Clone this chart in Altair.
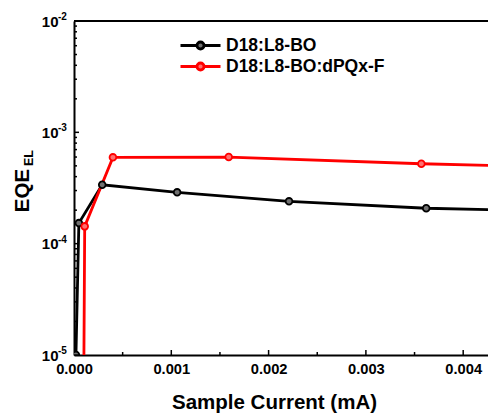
import altair as alt
import pandas as pd

# ---- data ----
series_names = ["D18:L8-BO", "D18:L8-BO:dPQx-F"]
black_x = [0.00002, 0.00005, 0.00029, 0.00106, 0.00221, 0.00362, 0.0052]
black_y = [1.0e-5, 1.53e-4, 3.38e-4, 2.89e-4, 2.40e-4, 2.08e-4, 1.93e-4]
red_x = [0.000095, 0.00011, 0.00040, 0.00159, 0.00357, 0.0053]
red_y = [1.0e-6, 1.43e-4, 5.96e-4, 6.00e-4, 5.22e-4, 4.80e-4]

x_tick_values = [0.0, 0.001, 0.002, 0.003, 0.004]
x_major_inner = [0.001, 0.002, 0.003, 0.004]
x_minor = [0.0005, 0.0015, 0.0025, 0.0035]
y_tick_values = [1e-5, 1e-4, 1e-3, 1e-2]
y_tick_exponents = ["-5", "-4", "-3", "-2"]
y_minor = [m * d for d in [1e-5, 1e-4, 1e-3] for m in range(2, 10)]

line_colors = ["#000000", "#ff0000"]
fill_colors = ["#707070", "#ff7070"]

W, H = 414, 334
FONT = "Liberation Sans"
YLAB_PAD = 16

df = pd.DataFrame(
    {"x": black_x + red_x,
     "y": black_y + red_y,
     "s": [series_names[0]] * len(black_x) + [series_names[1]] * len(red_x),
     "o": list(range(len(black_x))) + list(range(len(red_x)))}
)

xscale = alt.Scale(domain=[0, 0.004255], nice=False, zero=False)
yscale = alt.Scale(type="log", domain=[1e-5, 1e-2], nice=False)

x_axis = alt.Axis(
    values=x_tick_values, format=".3f", ticks=False, grid=False,
    domainColor="black", domainWidth=2,
    labelFont=FONT, labelFontWeight="bold", labelFontSize=14.7, labelColor="black",
    labelPadding=6, labelFlush=False,
    title="Sample Current (mA)", titleFont=FONT, titleFontWeight="bold",
    titleFontSize=20.5, titleColor="black", titleX=200, titleY=53,
    titleAlign="center", titleBaseline="alphabetic",
)
y_axis = alt.Axis(
    values=y_tick_values, labelExpr="'10'", ticks=False, grid=False,
    domainColor="black", domainWidth=2,
    labelFont=FONT, labelFontWeight="bold", labelFontSize=15, labelColor="black",
    labelPadding=YLAB_PAD, labelFlush=False,
    title="EQE", titleFont=FONT, titleFontWeight="bold", titleFontSize=20.5,
    titleColor="black", titleAngle=270, titleX=-46, titleY=169,
    titleAlign="center", titleBaseline="alphabetic",
)

base = alt.Chart(df)

lines = base.mark_line(strokeWidth=2.8, clip=True).encode(
    x=alt.X("x:Q", scale=xscale, axis=x_axis, title="Sample Current (mA)"),
    y=alt.Y("y:Q", scale=yscale, axis=y_axis, title="EQE"),
    color=alt.Color("s:N", scale=alt.Scale(domain=series_names, range=line_colors), legend=None),
    order="o:Q",
)

symbol_path = "M-2,0L-0.35,0M0.35,0L2,0M-0.35,0A0.35,0.35,0,1,0,0.35,0A0.35,0.35,0,1,0,-0.35,0Z"
legend = alt.Legend(
    orient="none", legendX=115, legendY=13, title=None, padding=0,
    symbolType=symbol_path, symbolSize=400, symbolStrokeWidth=2.8,
    labelFont=FONT, labelFontWeight="bold", labelFontSize=17.5, labelColor="black",
    labelOffset=14, rowPadding=0, labelLimit=400,
)

points = base.mark_point(filled=True, size=45, strokeWidth=1.8, opacity=1, clip=True).encode(
    x=alt.X("x:Q", title="Sample Current (mA)"),
    y=alt.Y("y:Q", title="EQE"),
    fill=alt.Fill("s:N", scale=alt.Scale(domain=series_names, range=fill_colors), legend=legend),
    stroke=alt.Stroke("s:N", scale=alt.Scale(domain=series_names, range=line_colors), legend=legend),
)

xt_major = alt.Chart(pd.DataFrame({"x": x_major_inner})).mark_rule(color="black", strokeWidth=1.5).encode(
    x=alt.X("x:Q", title="Sample Current (mA)"), y=alt.value(H), y2=alt.value(H - 5))
xt_minor = alt.Chart(pd.DataFrame({"x": x_minor})).mark_rule(color="black", strokeWidth=1.5).encode(
    x=alt.X("x:Q", title="Sample Current (mA)"), y=alt.value(H), y2=alt.value(H - 3))
yt_major = alt.Chart(pd.DataFrame({"y": y_tick_values})).mark_rule(color="black", strokeWidth=1.5).encode(
    y=alt.Y("y:Q", title="EQE"), x=alt.value(0), x2=alt.value(5))
yt_minor = alt.Chart(pd.DataFrame({"y": y_minor})).mark_rule(color="black", strokeWidth=1.5).encode(
    y=alt.Y("y:Q", title="EQE"), x=alt.value(0), x2=alt.value(3))

# superscript exponents of the y tick labels
sup = alt.Chart(pd.DataFrame({"y": y_tick_values, "e": y_tick_exponents})).mark_text(
    font=FONT, fontWeight="bold", fontSize=10, color="black",
    align="left", baseline="alphabetic", dy=-1,
).encode(y=alt.Y("y:Q", title="EQE"), x=alt.value(-YLAB_PAD), text="e:N")

top_border = alt.Chart(pd.DataFrame({"a": [0]})).mark_rule(color="black", strokeWidth=2).encode(
    x=alt.value(0), x2=alt.value(W), y=alt.value(0))

sub_el = alt.Chart(pd.DataFrame({"t": ["EL"]})).mark_text(
    angle=270, font=FONT, fontWeight="bold", fontSize=12.5, color="black",
    align="center", baseline="alphabetic",
).encode(text="t:N", x=alt.value(-41), y=alt.value(137))

chart = alt.layer(
    lines, points, xt_major, xt_minor, yt_major, yt_minor, sup, top_border, sub_el
).resolve_scale(
    color="independent", fill="independent", stroke="independent"
).properties(
    width=W, height=H,
    autosize=alt.AutoSizeParams(type="none"),
    padding={"left": 74, "top": 21, "right": 0, "bottom": 60},
    background="white",
).configure_view(stroke=None)

chart.save("out.html", embed_options={"renderer": "svg", "actions": False})
